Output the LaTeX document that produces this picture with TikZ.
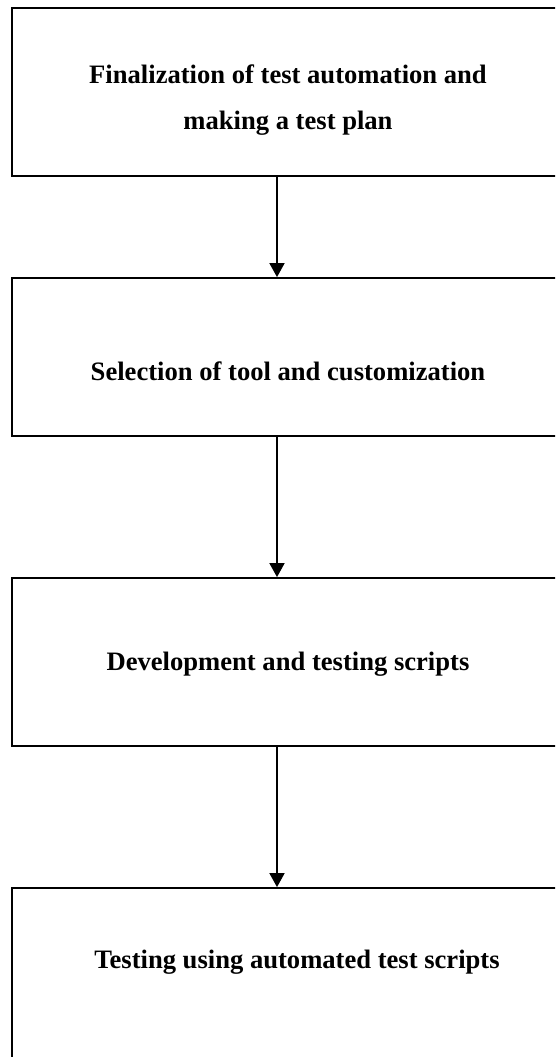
\documentclass[tikz,border=0pt]{standalone}
\usepackage{fontspec}
\setmainfont{Liberation Serif}
\usetikzlibrary{arrows.meta,positioning}

\begin{document}
\begin{tikzpicture}[
                    x=1pt, y=-1pt,
                    stepbox/.style={draw, rectangle, line width=1.8pt, minimum width=552pt, inner sep=0pt},
                    steptext/.style={font=\fontsize{26.6}{46}\selectfont\bfseries, align=center, inner sep=0pt},
                    flow/.style={-{Triangle[length=14pt, width=15pt]}, line width=1.8pt}
                ]
                    \useasboundingbox (0,0) rectangle (555,1057);
                    \clip (0,0) rectangle (555,1057);

                    % Boxes
                    \node[stepbox, minimum height=167.4pt] (Plan) at (288,92) {};
                    \node[stepbox, minimum height=158pt] (Tool) at (288,357) {};
                    \node[stepbox, minimum height=168pt] (Dev) at (288,662) {};
                    \node[stepbox, minimum height=178pt] (Run) at (288,977) {};

                    % Texts
                    \node[steptext, anchor=base] (PlanText) at (288,129) {Finalization of test automation and\\ making a test plan};
                    \node[steptext, anchor=base] (ToolText) at (288,380) {Selection of tool and customization};
                    \node[steptext, anchor=base] (DevText) at (288,670) {Development and testing scripts};
                    \node[steptext, anchor=base] (RunText) at (297,968) {Testing using automated test scripts};

                    % Arrows
                    \draw[flow] ([xshift=-11pt]Plan.south) -- ([xshift=-11pt]Tool.north);
                    \draw[flow] ([xshift=-11pt]Tool.south) -- ([xshift=-11pt]Dev.north);
                    \draw[flow] ([xshift=-11pt]Dev.south) -- ([xshift=-11pt]Run.north);
                \end{tikzpicture}
\end{document}
